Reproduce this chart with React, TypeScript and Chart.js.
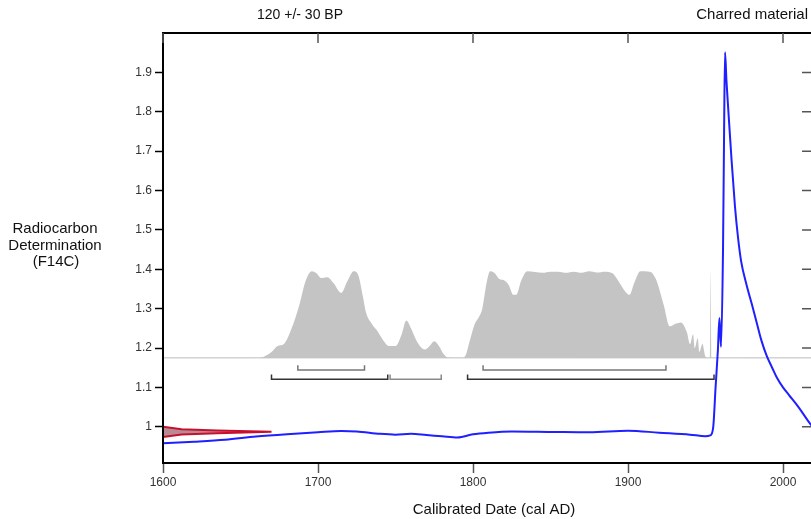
import React, { useEffect, useRef } from "react";
import { Chart, registerables } from "chart.js";

Chart.register(...registerables);

// ---- Data ----
const xTicks = [1600, 1700, 1800, 1900, 2000];
const yTicks = [1, 1.1, 1.2, 1.3, 1.4, 1.5, 1.6, 1.7, 1.8, 1.9];

// Calibration curve (blue)
const calYears = [
  1600, 1620, 1640, 1660, 1680, 1700, 1715, 1725, 1740, 1750, 1760, 1770, 1780, 1790,
  1800, 1810, 1825, 1850, 1875, 1900, 1920, 1940, 1950, 1953, 1955, 1956.5, 1958, 1959,
  1960, 1961.3, 1962, 1962.6, 1963.5, 1964.7, 1966.8, 1969, 1971, 1973, 1976.5, 1980,
  1983, 1986, 1989.5, 1993, 1996, 2000, 2004, 2010, 2016.5, 2020,
];
const calValues = [
  0.958, 0.962, 0.967, 0.975, 0.981, 0.986, 0.989, 0.988, 0.982, 0.98, 0.982, 0.979, 0.976, 0.973,
  0.981, 0.985, 0.988, 0.987, 0.986, 0.99, 0.985, 0.98, 0.976, 0.978, 1.0, 1.1, 1.195, 1.276,
  1.203, 1.449, 1.75, 1.951, 1.88, 1.805, 1.678, 1.56, 1.48, 1.42, 1.36, 1.31,
  1.265, 1.22, 1.18, 1.15, 1.125, 1.1, 1.08, 1.05, 1.013, 0.995,
];

// Calibrated probability distribution (grey), plotted on the F14C scale
const probBase = 1.175;
const probYears = [
  1660, 1665, 1670, 1674, 1678, 1683, 1688, 1692, 1696, 1699, 1702, 1706, 1710, 1715, 1719,
  1723, 1726, 1729, 1731, 1735, 1738, 1742, 1746, 1750, 1754, 1757, 1760, 1764, 1769, 1772,
  1775, 1778, 1781, 1784, 1792, 1795, 1798, 1801, 1804, 1806, 1809, 1811, 1814, 1817, 1820,
  1823, 1826, 1828, 1831, 1835, 1840, 1845, 1850, 1855, 1860, 1865, 1870, 1875, 1880, 1885,
  1890, 1893, 1897, 1901, 1904, 1908, 1914, 1918, 1923, 1927, 1931, 1934, 1938, 1940, 1942,
  1943, 1945, 1946, 1948, 1950, 1952, 1952.9, 1953.4, 1953.9, 1956,
];
const probValues = [
  1.175, 1.178, 1.19, 1.205, 1.21, 1.25, 1.31, 1.37, 1.395, 1.39, 1.378, 1.38, 1.365, 1.34, 1.37,
  1.395, 1.385, 1.33, 1.29, 1.26, 1.245, 1.22, 1.205, 1.205, 1.235, 1.27, 1.25, 1.215, 1.196, 1.205,
  1.217, 1.205, 1.185, 1.176, 1.175, 1.18, 1.22, 1.26, 1.28, 1.3, 1.37, 1.395, 1.39, 1.375, 1.372,
  1.36, 1.335, 1.335, 1.37, 1.395, 1.393, 1.391, 1.394, 1.394, 1.391, 1.394, 1.391, 1.395, 1.392, 1.394,
  1.39, 1.375, 1.35, 1.335, 1.365, 1.395, 1.394, 1.375, 1.31, 1.255, 1.262, 1.265, 1.24, 1.21, 1.235,
  1.2, 1.225, 1.19, 1.21, 1.178, 1.175, 1.175, 1.394, 1.175, 1.175,
];

// Sigma ranges (cal AD)
const sigma1Ranges = [[1687, 1730], [1806.5, 1924.5]];
const sigma2Ranges = [[1670, 1745], [1746.5, 1779.5], [1796.5, 1955.5]];
const sigma2Colors = ["#333333", "#8a8a8a", "#333333"];
const sigma1Level = 1.144;
const sigma2Level = 1.121;
const bracketTick = 0.012;

// Measured radiocarbon (red) outline on the y axis: x = extent (year), y = F14C
const measX = [1600, 1612, 1635, 1670, 1635, 1612, 1600];
const measY = [1.0, 0.994, 0.9905, 0.9873, 0.9835, 0.9805, 0.974];

const FONT = "'Liberation Sans', Arial, sans-serif";

const frame = {
  id: "frame",
  afterDraw(chart: any) {
    const { ctx, chartArea, scales } = chart;
    const { left, right, top, bottom } = chartArea;
    const x = scales.x;
    const y = scales.y;
    ctx.save();
    ctx.strokeStyle = "#000";
    ctx.lineWidth = 2;
    ctx.strokeRect(left, top, right - left, bottom - top);
    ctx.lineWidth = 1.5;
    ctx.strokeStyle = "#555";
    ctx.beginPath();
    for (const v of xTicks) {
      const px = x.getPixelForValue(v);
      ctx.moveTo(px, top);
      ctx.lineTo(px, top + 10);
    }
    for (const v of yTicks) {
      const py = y.getPixelForValue(v);
      ctx.moveTo(right, py);
      ctx.lineTo(right - 12, py);
    }
    ctx.stroke();

    ctx.fillStyle = "#111";
    ctx.textBaseline = "middle";
    ctx.font = `14px ${FONT}`;
    ctx.textAlign = "center";
    ctx.fillText("120 +/- 30 BP", 300, 15);
    ctx.font = `15px ${FONT}`;
    ctx.textAlign = "right";
    ctx.fillText("Charred material", 808, 15);
    ctx.textAlign = "center";
    ctx.fillText("Radiocarbon", 55, 229);
    ctx.fillText("Determination", 55, 245.5);
    ctx.fillText("(F14C)", 56, 262);
    ctx.fillText("Calibrated Date (cal AD)", 494, 510);
    ctx.restore();
  },
};

export default function App() {
  const ref = useRef<HTMLCanvasElement>(null);

  useEffect(() => {
    if (!ref.current) return;
    const zip = (xs: number[], ys: number[]) => xs.map((v, i) => ({ x: v, y: ys[i] }));
    const bracket = (r: number[], level: number) => [
      { x: r[0], y: level + bracketTick },
      { x: r[0], y: level },
      { x: r[1], y: level },
      { x: r[1], y: level + bracketTick },
    ];
    const datasets: any[] = [
      {
        data: zip(calYears, calValues),
        borderColor: "#1f1fff",
        borderWidth: 2,
        pointRadius: 0,
        fill: false,
        cubicInterpolationMode: "monotone",
        order: 0,
      },
      {
        data: zip(measX, measY),
        borderColor: "#c8102e",
        borderWidth: 2,
        backgroundColor: "rgba(160,100,112,0.75)",
        pointRadius: 0,
        fill: "shape",
        tension: 0,
        order: 1,
      },
      ...sigma1Ranges.map((r) => ({
        data: bracket(r, sigma1Level),
        borderColor: "#777",
        borderWidth: 1.5,
        pointRadius: 0,
        fill: false,
        order: 2,
      })),
      ...sigma2Ranges.map((r, i) => ({
        data: bracket(r, sigma2Level),
        borderColor: sigma2Colors[i],
        borderWidth: 1.5,
        pointRadius: 0,
        fill: false,
        order: 2,
      })),
      {
        data: [
          { x: 1600, y: probBase },
          { x: 2020, y: probBase },
        ],
        borderColor: "#bdbdbd",
        borderWidth: 1,
        pointRadius: 0,
        fill: false,
        order: 3,
      },
      {
        data: zip(probYears, probValues),
        borderColor: "rgba(0,0,0,0)",
        borderWidth: 0,
        backgroundColor: "#c4c4c4",
        pointRadius: 0,
        fill: { value: probBase },
        cubicInterpolationMode: "monotone",
        order: 4,
      },
    ];

    const chart = new Chart(ref.current, {
      type: "line",
      data: { datasets },
      options: {
        animation: false,
        responsive: false,
        layout: { padding: { left: 0, right: 16, top: 33, bottom: 0 } },
        plugins: { legend: { display: false }, tooltip: { enabled: false } },
        scales: {
          x: {
            type: "linear",
            min: 1600,
            max: 2020,
            afterBuildTicks: (s: any) => {
              s.ticks = xTicks.map((v) => ({ value: v }));
            },
            afterFit: (s: any) => {
              s.height = 56;
            },
            grid: { drawOnChartArea: false, drawTicks: true, tickLength: 10, tickColor: "#555", tickWidth: 1.5 },
            border: { display: false },
            ticks: {
              padding: 2,
              color: "#333",
              font: { family: FONT, size: 12 },
              maxRotation: 0,
              callback: (v: any) => String(v),
            },
          },
          y: {
            type: "linear",
            min: 0.908,
            max: 2.0,
            afterBuildTicks: (s: any) => {
              s.ticks = yTicks.map((v) => ({ value: v }));
            },
            afterFit: (s: any) => {
              s.width = 163;
            },
            grid: { drawOnChartArea: false, drawTicks: true, tickLength: 8, tickColor: "#000", tickWidth: 1.5 },
            border: { display: false },
            ticks: {
              padding: 3,
              color: "#333",
              font: { family: FONT, size: 12 },
              callback: (v: any) => (Number(v) === 1 ? "1" : Number(v).toFixed(1)),
            },
          },
        },
      },
      plugins: [frame],
    });
    return () => chart.destroy();
  }, []);

  return (
    <div style={{ position: "fixed", left: 0, top: 0, width: 811, height: 519, overflow: "hidden", background: "#fff" }}>
      <canvas ref={ref} width={830} height={519} style={{ display: "block", width: 830, height: 519 }} />
    </div>
  );
}
